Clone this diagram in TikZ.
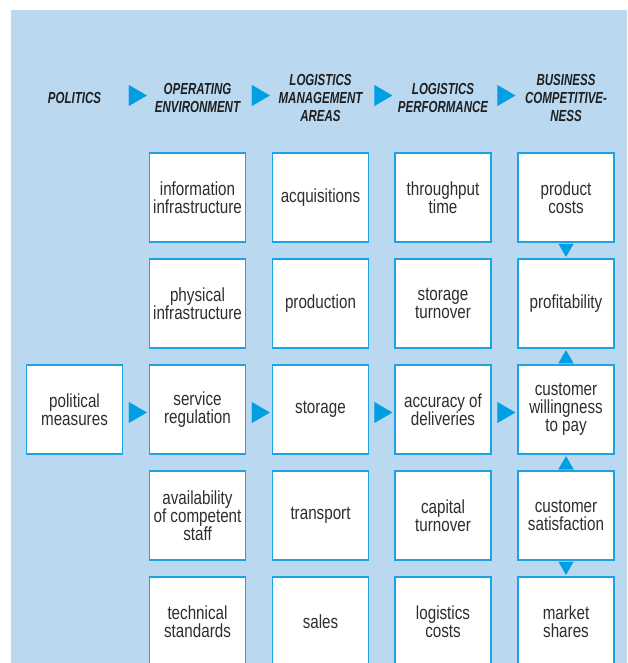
\documentclass[tikz,border=0pt]{standalone}
\usepackage{fontspec}
\setmainfont{Liberation Sans}[FakeStretch=0.8]
\newfontfamily\headfont{Liberation Sans}[FakeStretch=0.72]
\usetikzlibrary{arrows.meta}

\definecolor{bgblue}{HTML}{BAD9F1}
\definecolor{lineblue}{HTML}{1BA3E6}
\definecolor{triblue}{HTML}{009FE3}
\definecolor{txtgray}{HTML}{2E2E2E}

\tikzstyle{lg-box}=[draw=lineblue,line width=1.5pt,fill=white,minimum width=96pt,minimum height=89pt,inner sep=1pt,align=center,text=txtgray,font=\fontsize{19}{18}\selectfont]
\tikzstyle{lg-head}=[minimum width=97pt,inner sep=0pt,align=center,text=black!88,font=\headfont\bfseries\itshape\fontsize{16}{18}\selectfont]
\tikzstyle{lg-arr-h}=[draw=triblue,line width=0.01pt,-{Triangle[length=18pt,width=21pt]},shorten <=5pt,shorten >=2pt]
\tikzstyle{lg-arr-v}=[draw=triblue,line width=0.01pt,-{Triangle[length=13pt,width=15pt]},shorten <=1.5pt,shorten >=1.5pt]

\begin{document}
\begin{tikzpicture}[x=1pt,y=1pt,node distance=106pt]
    \useasboundingbox (0,0) rectangle (627,-663);
    \fill[bgblue] (11,-10) rectangle (627,-663);
    % operating environment
    \node[lg-box] (info)    at (197.5,-197.5)   {information\\infrastructure};
    \node[lg-box] (phys)    [below of=info]     {physical\\infrastructure};
    \node[lg-box] (servreg) [below of=phys]     {service\\regulation};
    \node[lg-box] (staff)   [below of=servreg]  {availability\\of competent\\staff};
    \node[lg-box] (techstd) [below of=staff]    {technical\\standards};
    \node[lg-box] (polmeas) [left of=servreg, node distance=123pt] {political\\measures};
    % logistics management areas
    \node[lg-box] (acq)     [right of=info,    node distance=123pt] {acquisitions};
    \node[lg-box] (prod)    [below of=acq]      {production};
    \node[lg-box] (stor)    [below of=prod]     {storage};
    \node[lg-box] (trans)   [below of=stor]     {transport};
    \node[lg-box] (sales)   [below of=trans]    {sales};
    % logistics performance
    \node[lg-box] (thru)    [right of=acq,     node distance=122.5pt] {throughput\\time};
    \node[lg-box] (storturn)[below of=thru]     {storage\\turnover};
    \node[lg-box] (accur)   [below of=storturn] {accuracy of\\deliveries};
    \node[lg-box] (capturn) [below of=accur]    {capital\\turnover};
    \node[lg-box] (logcost) [below of=capturn]  {logistics\\costs};
    % business competitiveness
    \node[lg-box] (prodcost)[right of=thru,    node distance=123pt] {product\\costs};
    \node[lg-box] (profit)  [below of=prodcost] {profitability};
    \node[lg-box] (willing) [below of=profit]   {customer\\willingness\\to pay};
    \node[lg-box] (custsat) [below of=willing]  {customer\\satisfaction};
    \node[lg-box] (market)  [below of=custsat]  {market\\shares};
    % headings
    \node[lg-head] (h-env)  [above of=info,    node distance=99.5pt] {OPERATING\\ENVIRONMENT};
    \node[lg-head] (h-pol)  [left of=h-env,    node distance=123pt]  {POLITICS};
    \node[lg-head] (h-lma)  [right of=h-env,   node distance=123pt]  {LOGISTICS\\MANAGEMENT\\AREAS};
    \node[lg-head] (h-perf) [right of=h-lma,   node distance=122.5pt] {LOGISTICS\\PERFORMANCE};
    \node[lg-head] (h-comp) [right of=h-perf,  node distance=123pt]  {BUSINESS\\COMPETITIVE-\\NESS};
    \draw[lg-arr-h, transform canvas={yshift=2.5pt}] (h-pol) -- (h-env);
    \draw[lg-arr-h, transform canvas={yshift=2.5pt}] (h-env) -- (h-lma);
    \draw[lg-arr-h, transform canvas={yshift=2.5pt}] (h-lma) -- (h-perf);
    \draw[lg-arr-h, transform canvas={yshift=2.5pt}] (h-perf) -- (h-comp);
    % main chain
    \draw[lg-arr-h, transform canvas={yshift=-3pt}] (polmeas) -- (servreg);
    \draw[lg-arr-h, transform canvas={yshift=-3pt}] (servreg) -- (stor);
    \draw[lg-arr-h, transform canvas={yshift=-3pt}] (stor)    -- (accur);
    \draw[lg-arr-h, transform canvas={yshift=-3pt}] (accur)   -- (willing);
    \draw[lg-arr-v] (prodcost) -- (profit);
    \draw[lg-arr-v] (willing)  -- (profit);
    \draw[lg-arr-v] (custsat)  -- (willing);
    \draw[lg-arr-v] (custsat)  -- (market);
\end{tikzpicture}
\end{document}
